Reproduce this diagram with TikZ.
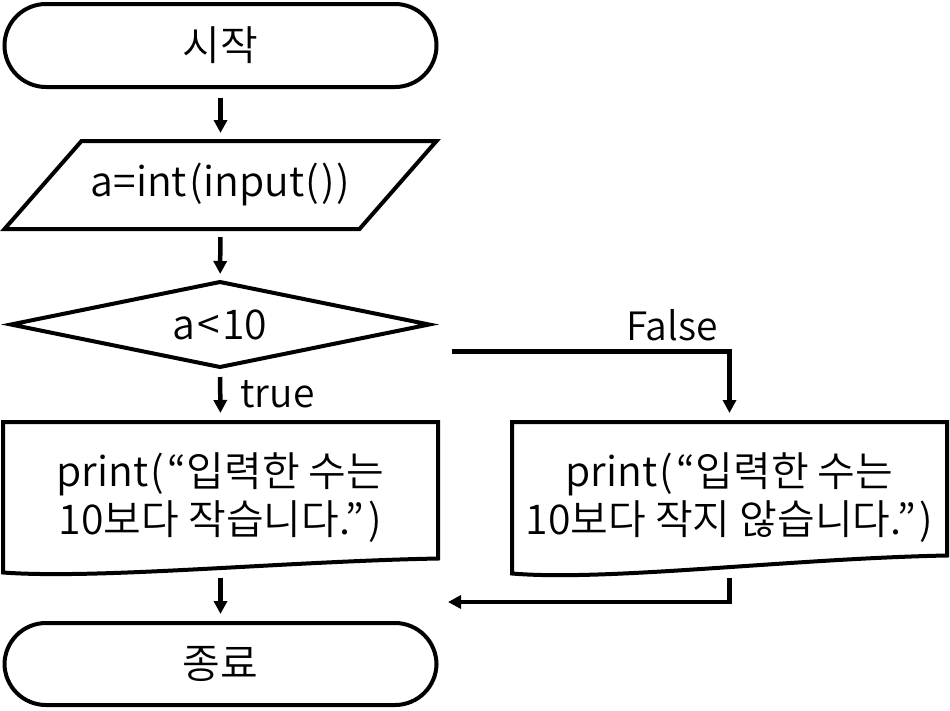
\documentclass[tikz,border=0pt]{standalone}
\usepackage{fontspec}
\setmainfont{Noto Sans CJK KR DemiLight}
\usetikzlibrary{arrows.meta}
\begin{document}
\begin{tikzpicture}[x=1pt,y=-1pt, line width=4pt,
  every node/.style={font=\fontsize{41}{48}\selectfont},
  term/.style={draw, rounded corners=41.5pt, minimum width=432pt, minimum height=83pt, inner sep=0pt},
  box/.style={inner sep=0pt, align=center},
  flow/.style={line width=4.5pt, -{Triangle[width=13pt,length=13pt]}},
  lbl/.style={font=\fontsize{39}{44}\selectfont, inner sep=0pt}]
\useasboundingbox (0,0) rectangle (950,710);
% terminals
\node[term] (start) at (220.5,45.5) {시작};
\node[term, minimum height=82pt] (end) at (220.5,664) {종료};
% input
\node[box, minimum width=428pt, minimum height=84pt] (inp) at (220.5,185) {a=int\kern2pt(\kern1pt input\kern1pt(\kern2pt)\kern2pt)};
\draw ([xshift=77pt]inp.north west) -- (inp.north east) -- ([xshift=-77pt]inp.south east) -- (inp.south west) -- cycle;
% decision
\node[box, minimum width=414pt, minimum height=81pt] (dec) at (220,324.5) {a\kern2pt<\kern2pt10};
\draw (dec.west) -- (dec.north) -- (dec.east) -- (dec.south) -- cycle;
% documents
\node[box, minimum width=431pt, minimum height=146.5pt] (ldoc) at (220.5,497.25) {print\kern2pt(\kern4pt“입력한 수는\\10보다 작습니다.”\kern4pt)};
\draw (ldoc.south west) -- (ldoc.north west) -- (ldoc.north east) -- ([yshift=14pt]ldoc.south east)
  .. controls +(-156.5,3) and +(95.5,7) .. (ldoc.south west) -- cycle;
\node[box, minimum width=431pt, minimum height=147.5pt] (rdoc) at (729.5,497.75) {print\kern2pt(\kern4pt“입력한 수는\\10보다 작지 않습니다.”\kern4pt)};
\draw (rdoc.south west) -- (rdoc.north west) -- (rdoc.north east) -- ([yshift=18pt]rdoc.south east)
  .. controls +(-156.5,3) and +(95.5,8) .. (rdoc.south west) -- cycle;
% connectors
\draw[flow, shorten <=9pt, shorten >=8pt] (start) -- (inp);
\draw[flow, shorten <=8pt, shorten >=8pt] (inp) -- (dec);
\draw[flow, shorten <=10pt, shorten >=9pt] (dec.south) -- node[lbl, anchor=west, xshift=18pt] (tl) {true} (ldoc.north);
\coordinate (fs) at (452,351.5);
\draw[flow, shorten >=9pt] (fs) -| (rdoc.north);
\node[lbl] (fl) at (672,325) {False};
\draw[flow, shorten <=5pt, shorten >=7pt] (ldoc) -- (end);
\coordinate (re) at (448,602);
\draw[flow, shorten <=4pt] (rdoc.south) |- (re);
\end{tikzpicture}
\end{document}
